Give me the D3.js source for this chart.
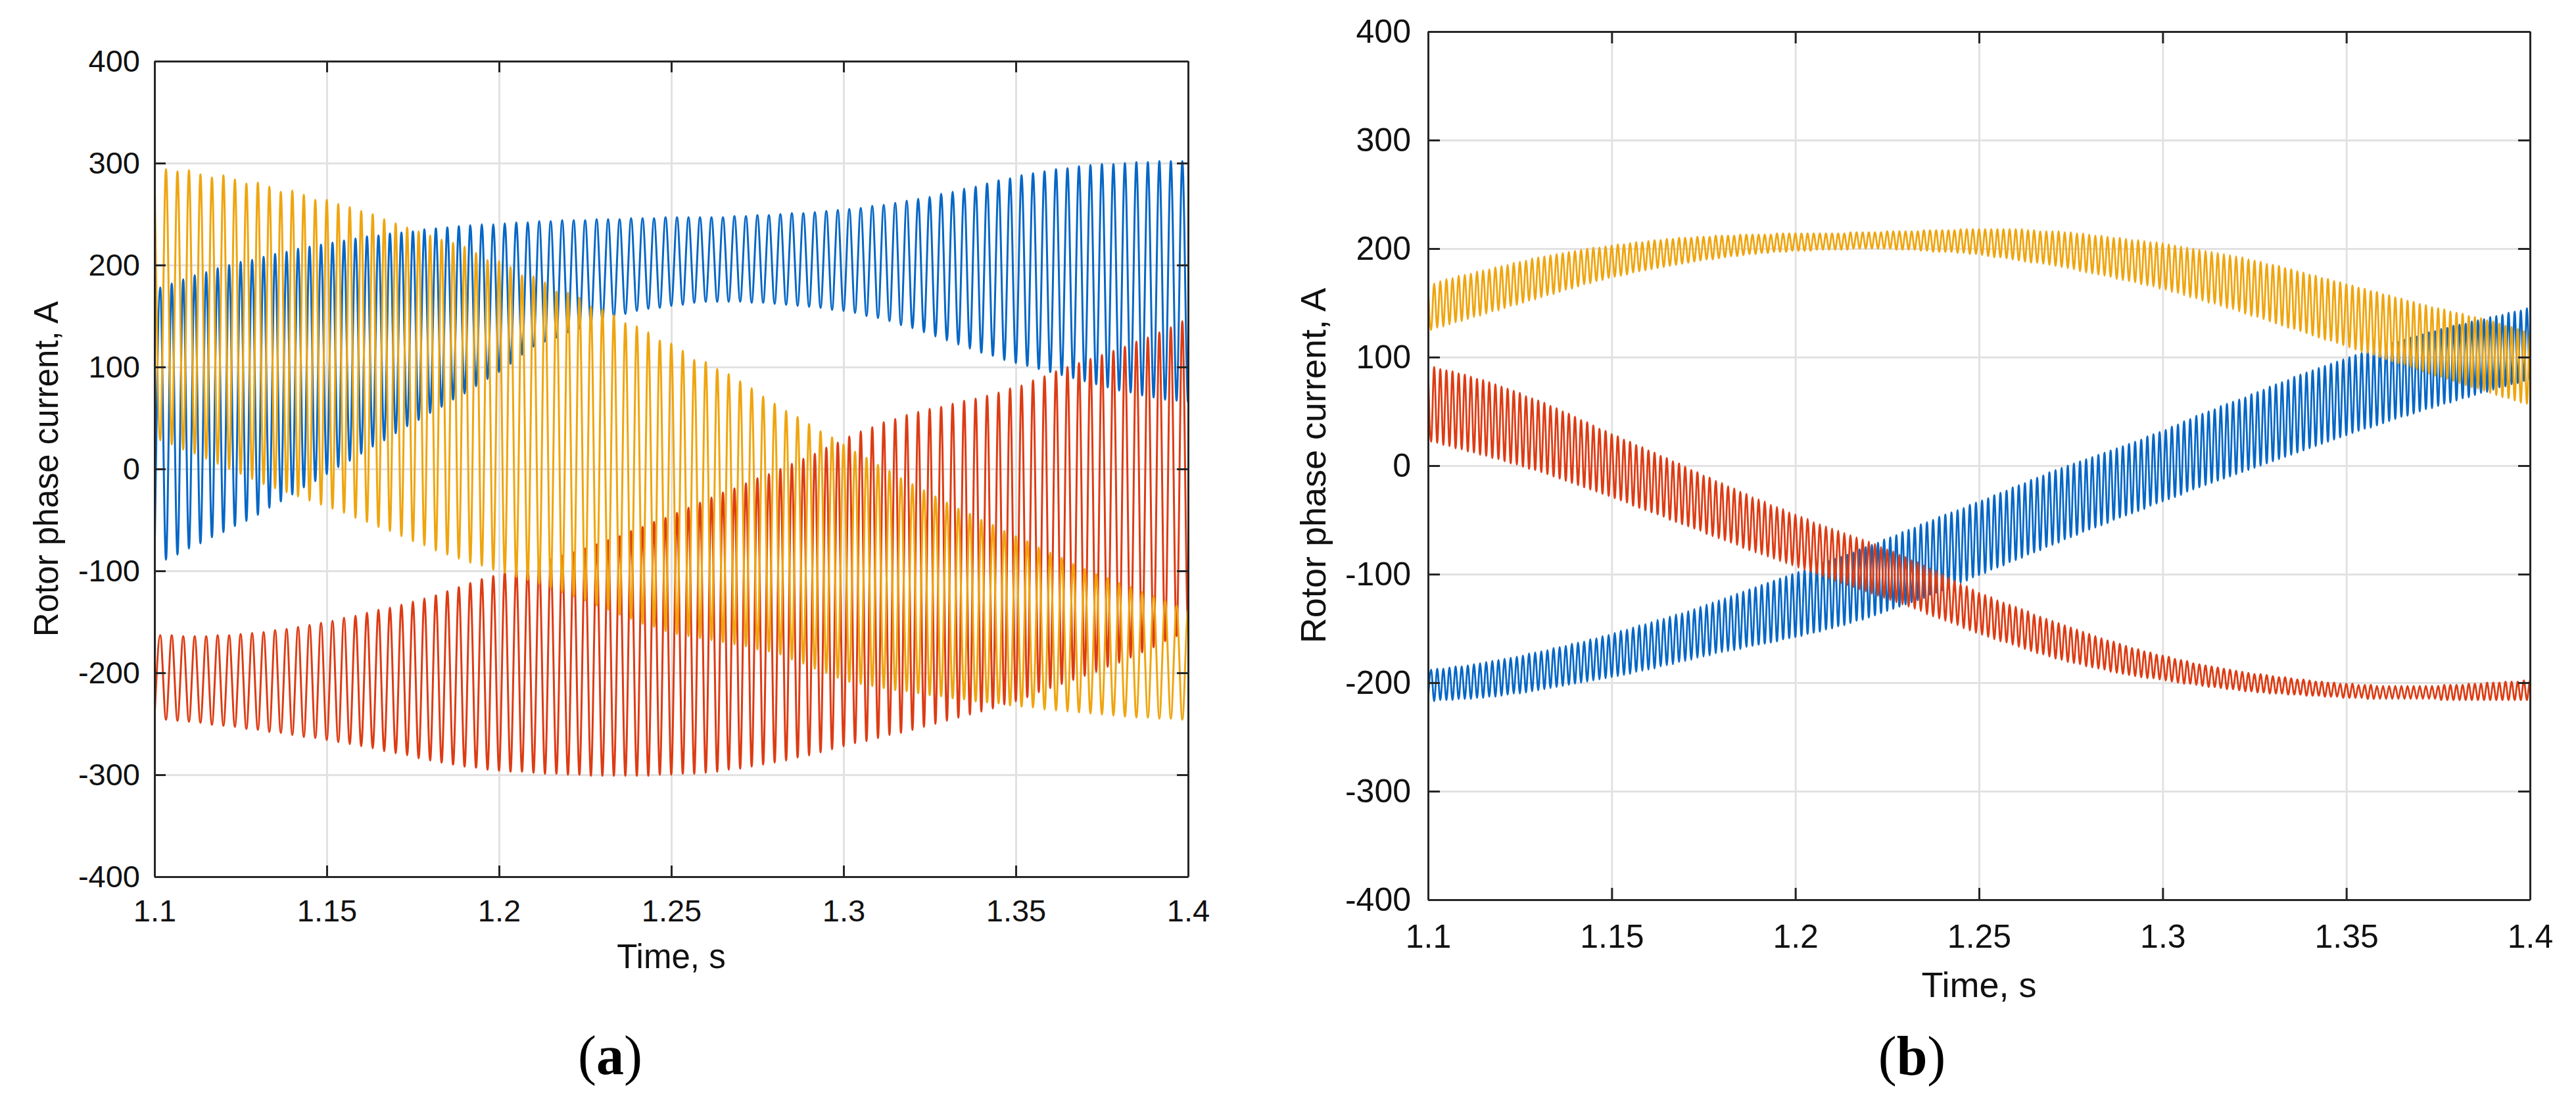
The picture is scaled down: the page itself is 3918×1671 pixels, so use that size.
<!DOCTYPE html>
<html>
<head>
<meta charset="utf-8">
<script src="https://cdn.jsdelivr.net/npm/d3@7"></script>
<style>
  body { margin: 0; background: #ffffff; }
  svg { display: block; font-family: "Liberation Sans", Arial, Helvetica, sans-serif; }
</style>
</head>
<body>
<svg id="fig" width="3918" height="1671"></svg>
<script>

//-------------------Axes----------------------------------------

var tStart = 1.1;
var tEnd = 1.4;
var xTicks = [1.1, 1.15, 1.2, 1.25, 1.3, 1.35, 1.4];
var yTicks = [-400, -300, -200, -100, 0, 100, 200, 300, 400];
var cyclesA = 90;   // ripple cycles over 1.1 .. 1.4 s in (a)
var cyclesB = 180;  // ripple cycles over 1.1 .. 1.4 s in (b)

//-------------------Panel (a) : top / bottom of each ripple cycle, A----------------------------------------

var aBlueTop = [178,182,186,190,193,197,200,203,205,208,211,213,216,218,220,222,224,226,228,229,231,232,233,235,236,237,238,239,240,240,
  241,242,242,243,243,244,244,244,245,245,245,246,246,246,247,247,247,247,247,247,248,248,249,249,250,251,251,252,253,254,
  255,256,258,259,261,263,265,267,270,272,275,277,280,283,285,288,290,292,294,295,297,298,299,299,300,301,301,302,302,302,302];
var aBlueBottom = [-95,-89,-84,-78,-73,-67,-62,-56,-51,-45,-38,-32,-25,-18,-12,-5,2,8,15,22,28,35,42,48,55,61,68,74,81,88,
  95,103,112,120,125,129,134,138,142,146,149,152,155,157,158,160,161,163,164,164,164,164,163,163,162,161,160,159,158,156,
  155,153,150,148,145,141,138,134,130,126,122,118,114,111,107,104,101,98,95,92,89,86,83,80,77,75,72,70,68,67,65];

var aRedTop = [-163,-163,-164,-164,-164,-163,-163,-162,-161,-160,-158,-157,-155,-153,-151,-149,-146,-144,-141,-138,-136,-133,-130,-127,-124,-120,-116,-112,-108,-105,
  -101,-98,-95,-92,-89,-85,-82,-78,-74,-70,-66,-61,-57,-52,-48,-43,-38,-33,-28,-23,-19,-14,-9,-5,0,5,10,15,21,26,
  32,37,41,46,49,53,56,59,61,64,67,69,72,75,79,82,87,91,96,100,104,108,112,116,120,125,129,134,139,145,150];
var aRedBottom = [-245,-246,-247,-248,-249,-251,-252,-253,-255,-256,-258,-259,-261,-263,-264,-266,-268,-270,-272,-274,-277,-279,-281,-284,-286,-288,-290,-292,-293,-295,
  -296,-297,-297,-298,-299,-299,-300,-300,-301,-301,-301,-301,-301,-301,-300,-300,-299,-299,-298,-297,-295,-294,-292,-290,-288,-286,-283,-281,-278,-275,
  -272,-269,-267,-264,-261,-259,-256,-253,-250,-247,-244,-241,-238,-235,-231,-228,-224,-219,-215,-211,-207,-203,-199,-194,-190,-185,-180,-175,-169,-164,-158];

var aYellowTop = [298,294,292,293,289,286,288,284,280,281,277,272,273,269,264,264,260,257,253,250,245,241,237,233,229,225,222,218,212,205,
  204,198,190,189,183,174,173,168,159,157,151,143,140,134,126,123,116,107,105,98,93,86,79,71,64,57,51,44,37,31,
  24,17,11,4,-2,-9,-15,-21,-27,-33,-39,-44,-50,-55,-61,-66,-71,-77,-82,-87,-93,-98,-103,-107,-112,-116,-121,-125,-129,-134,-138];
var aYellowBottom = [28,24,19,15,10,5,0,-5,-10,-15,-19,-23,-27,-31,-35,-39,-43,-48,-52,-57,-61,-66,-71,-75,-80,-84,-88,-92,-95,-99,
  -102,-106,-109,-113,-117,-121,-125,-129,-134,-138,-143,-147,-152,-155,-159,-162,-164,-166,-168,-170,-172,-174,-177,-179,-182,-187,-191,-196,-200,-205,
  -209,-211,-213,-215,-217,-218,-220,-222,-223,-225,-226,-228,-229,-230,-232,-233,-234,-236,-237,-238,-239,-240,-241,-242,-243,-244,-244,-245,-245,-246,-246];

//-------------------Panel (b) : top / bottom of each ripple cycle, A----------------------------------------

var bBlueTop = [-188,-187,-187,-186,-185,-185,-184,-183,-182,-181,-180,-179,-178,-177,-176,-175,-173,-172,-171,-170,-168,-167,-166,-164,-163,-162,-160,-159,-157,-156,
  -154,-152,-151,-149,-147,-146,-144,-142,-141,-139,-137,-136,-134,-132,-130,-128,-126,-124,-122,-120,-118,-116,-114,-112,-110,-108,-106,-104,-102,-100,
  -98,-96,-94,-92,-90,-88,-86,-84,-82,-80,-77,-75,-73,-71,-68,-66,-64,-61,-59,-57,-54,-52,-50,-47,-45,-43,-41,-39,-36,-34,
  -32,-30,-27,-25,-23,-20,-18,-16,-13,-11,-9,-6,-4,-2,0,2,4,6,8,10,12,14,16,18,20,22,24,27,29,31,
  33,36,38,41,43,46,48,50,52,55,57,59,61,63,66,68,70,73,75,77,79,82,84,86,88,90,92,94,96,98,
  100,102,104,106,107,109,111,113,114,116,118,119,121,123,124,126,127,129,130,131,133,134,135,137,138,139,141,142,143,145,146];
var bBlueBottom = [-217,-217,-216,-216,-216,-215,-215,-215,-214,-214,-213,-213,-212,-211,-210,-210,-209,-208,-207,-206,-205,-204,-203,-202,-201,-200,-199,-198,-197,-196,
  -195,-194,-193,-192,-190,-189,-188,-187,-185,-184,-183,-181,-180,-179,-177,-176,-175,-173,-172,-171,-170,-169,-167,-166,-165,-164,-163,-162,-160,-159,
  -158,-157,-155,-154,-153,-151,-150,-148,-147,-145,-143,-142,-140,-138,-136,-134,-132,-130,-128,-126,-124,-122,-119,-117,-115,-113,-110,-108,-106,-103,
  -101,-99,-96,-94,-92,-89,-87,-85,-82,-80,-78,-75,-73,-71,-68,-66,-64,-61,-59,-57,-55,-53,-50,-48,-46,-44,-42,-40,-37,-35,
  -33,-31,-29,-27,-24,-22,-20,-18,-16,-14,-12,-10,-8,-6,-4,-2,0,2,4,6,8,10,12,14,16,18,20,22,24,26,
  28,30,32,34,35,37,39,41,43,45,46,48,50,52,53,55,57,58,60,62,63,65,67,68,70,72,73,75,76,78,79];

var bRedTop = [92,91,89,88,87,85,84,82,80,79,77,75,73,71,69,67,64,62,60,58,55,53,50,48,45,42,40,37,34,32,
  29,27,24,22,19,17,14,12,9,7,4,2,-1,-4,-6,-9,-11,-14,-16,-19,-21,-24,-26,-29,-31,-33,-36,-38,-40,-43,
  -45,-47,-49,-52,-54,-56,-58,-60,-62,-64,-66,-68,-70,-72,-75,-77,-79,-82,-84,-87,-89,-92,-95,-97,-100,-103,-106,-109,-111,-114,
  -117,-119,-121,-124,-126,-128,-130,-132,-134,-137,-139,-141,-143,-145,-147,-149,-151,-153,-155,-157,-159,-161,-162,-164,-166,-168,-169,-171,-172,-174,
  -175,-176,-178,-179,-180,-182,-183,-184,-185,-186,-187,-188,-189,-190,-191,-192,-192,-193,-194,-195,-195,-196,-197,-197,-198,-199,-199,-200,-200,-201,
  -201,-201,-202,-202,-202,-203,-203,-203,-203,-203,-203,-203,-203,-203,-203,-203,-202,-202,-202,-202,-201,-201,-201,-200,-200,-200,-199,-199,-199,-198,-198];
var bRedBottom = [22,21,19,18,16,15,13,12,10,9,7,6,4,2,1,-1,-3,-4,-6,-8,-10,-12,-14,-16,-18,-20,-22,-24,-26,-28,
  -30,-32,-34,-37,-39,-41,-43,-45,-47,-50,-52,-54,-56,-58,-60,-63,-65,-67,-69,-71,-73,-76,-78,-80,-82,-84,-86,-88,-90,-92,
  -94,-96,-98,-100,-102,-104,-106,-108,-110,-112,-114,-116,-118,-120,-122,-124,-126,-128,-130,-132,-134,-137,-139,-141,-143,-145,-147,-150,-152,-154,
  -156,-158,-160,-162,-163,-165,-167,-169,-171,-173,-174,-176,-178,-179,-181,-182,-183,-185,-186,-187,-188,-190,-191,-192,-193,-194,-195,-196,-196,-197,
  -198,-199,-200,-201,-201,-202,-203,-204,-204,-205,-206,-206,-207,-208,-208,-209,-209,-210,-210,-210,-211,-211,-211,-212,-212,-212,-213,-213,-213,-214,
  -214,-214,-214,-215,-215,-215,-215,-215,-215,-215,-215,-215,-215,-215,-215,-216,-216,-216,-216,-216,-216,-216,-216,-216,-216,-216,-216,-216,-216,-216,-216];

var bYellowTop = [167,168,170,172,173,175,176,177,179,180,181,183,184,185,187,188,189,191,192,193,194,195,196,197,198,199,200,201,201,202,
  203,204,204,205,206,206,207,208,208,209,209,210,210,210,211,211,211,212,212,212,212,213,213,213,213,213,213,214,214,214,
  214,214,214,214,214,214,214,214,214,215,215,215,215,215,215,216,216,216,216,216,216,217,217,217,217,217,217,218,218,218,
  218,218,218,218,218,218,218,218,217,217,216,216,216,216,215,215,214,214,213,212,212,211,210,210,209,208,208,207,206,206,
  205,204,203,202,201,200,199,198,197,196,195,194,193,192,190,189,188,186,185,184,182,181,179,178,176,175,173,172,170,169,
  167,166,164,163,161,160,158,157,155,154,152,151,149,148,146,145,144,142,141,140,138,137,136,134,133,131,129,128,126,124,122];
var bYellowBottom = [125,127,128,130,132,133,135,137,138,140,142,143,145,147,148,150,152,153,155,157,158,160,162,163,165,167,168,170,171,173,
  174,175,176,178,179,180,181,182,183,184,185,186,187,188,189,190,190,191,192,193,193,194,195,195,196,196,197,197,197,198,
  198,198,198,199,199,199,199,199,199,200,200,200,200,200,200,200,199,199,199,199,198,198,197,197,197,197,196,196,195,195,
  194,193,192,192,191,190,189,188,187,187,186,185,184,183,182,181,179,178,177,176,175,174,172,171,170,169,167,166,165,163,
  162,160,159,157,155,154,152,150,149,147,145,144,142,140,138,137,135,133,131,129,127,126,124,122,120,118,116,115,113,111,
  109,107,105,104,102,100,98,96,94,93,91,89,87,85,83,82,80,78,76,74,72,71,69,67,65,63,62,60,58,57,55];

var colBlue = "#0667c6";
var colRed = "#dd3c14";
var colYellow = "#efa50f";

//-------------------Ripple polyline from cycle tops/bottoms----------------------------------------

function pointsFromCycles(top, bottom, peakFirst, nbCycles) {
    var period = (tEnd - tStart) / nbCycles;
    var pts = [];
    for (var k = 0; k < top.length; k++) {
        var t = tStart + k * period;
        if (peakFirst) {
            pts.push([t, top[k]]);
            pts.push([t + period / 2, bottom[k]]);
        } else {
            pts.push([t, bottom[k]]);
            pts.push([t + period / 2, top[k]]);
        }
    }
    return pts;
}

//-------------------One panel----------------------------------------

function drawPanel(p) {
    var svg = d3.select("#fig");
    var g = svg.append("g");
    var w = p.right - p.left;
    var h = p.bottom - p.top;

    var x = d3.scaleLinear().domain([tStart, tEnd]).range([p.left, p.right]);
    var y = d3.scaleLinear().domain([-400, 400]).range([p.bottom, p.top]);

    svg.append("defs").append("clipPath")
        .attr("id", "clip-" + p.id)
        .append("rect")
        .attr("x", p.left).attr("y", p.top)
        .attr("width", w).attr("height", h);

    // grille
    g.append("g")
        .attr("transform", "translate(0," + p.bottom + ")")
        .call(d3.axisBottom(x).tickValues(xTicks).tickSize(-h).tickFormat(""))
        .call(function(s) { s.select(".domain").remove(); })
        .selectAll("line").attr("stroke", "#e2e2e2").attr("stroke-width", 3);
    g.append("g")
        .attr("transform", "translate(" + p.left + ",0)")
        .call(d3.axisLeft(y).tickValues(yTicks).tickSize(-w).tickFormat(""))
        .call(function(s) { s.select(".domain").remove(); })
        .selectAll("line").attr("stroke", "#e2e2e2").attr("stroke-width", 3);

    // courbes, ordre matlab : bleu, rouge, jaune
    var line = d3.line()
        .x(function(d) { return x(d[0]); })
        .y(function(d) { return y(d[1]); })
        .curve(d3.curveMonotoneX);

    p.series.forEach(function(s) {
        g.append("path")
            .attr("d", line(pointsFromCycles(s.top, s.bottom, s.peakFirst, p.cycles)))
            .attr("fill", "none")
            .attr("stroke", s.color)
            .attr("stroke-width", p.lineWidth)
            .attr("stroke-linejoin", "round")
            .attr("clip-path", "url(#clip-" + p.id + ")");
    });

    // cadre + graduations vers l'interieur
    var axes = [
        {gen: d3.axisBottom(x).tickValues(xTicks).tickFormat(d3.format("~g")).tickPadding(p.xPad), tr: "translate(0," + p.bottom + ")"},
        {gen: d3.axisTop(x).tickValues(xTicks).tickFormat(function() { return ""; }), tr: "translate(0," + p.top + ")"},
        {gen: d3.axisLeft(y).tickValues(yTicks).tickFormat(function(d) { return String(d); }).tickPadding(p.yPad), tr: "translate(" + p.left + ",0)"},
        {gen: d3.axisRight(y).tickValues(yTicks).tickFormat(function() { return ""; }), tr: "translate(" + p.right + ",0)"}
    ];
    axes.forEach(function(a) {
        var ax = g.append("g")
            .attr("transform", a.tr)
            .call(a.gen.tickSizeInner(-p.tick).tickSizeOuter(0));
        ax.attr("font-family", null).attr("font-size", null).attr("color", "#262626");
        ax.select(".domain").attr("stroke-width", 3);
        ax.selectAll(".tick line").attr("stroke-width", 3);
        ax.selectAll(".tick text")
            .attr("fill", "#111111")
            .style("font-size", p.tickFont + "px");
    });

    // titres
    g.append("text")
        .attr("x", (p.left + p.right) / 2)
        .attr("y", p.xTitleY)
        .attr("text-anchor", "middle")
        .attr("fill", "#111111")
        .style("font-size", p.titleFont + "px")
        .text("Time, s");

    g.append("text")
        .attr("transform", "translate(" + p.yTitleX + "," + ((p.top + p.bottom) / 2) + ") rotate(-90)")
        .attr("text-anchor", "middle")
        .attr("fill", "#111111")
        .style("font-size", p.titleFont + "px")
        .text("Rotor phase current, A");

    var cap = g.append("text")
        .attr("x", p.capX)
        .attr("y", p.capY)
        .attr("text-anchor", "middle")
        .attr("fill", "#000000")
        .style("font-family", "'Liberation Serif', 'Times New Roman', serif")
        .style("font-size", "84px");
    cap.append("tspan").text("(");
    cap.append("tspan").attr("font-weight", "bold").text(p.letter);
    cap.append("tspan").text(")");
}

//-------------------Les deux figures----------------------------------------

drawPanel({
    id: "a", letter: "a",
    left: 235, right: 1807, top: 93, bottom: 1333,
    cycles: cyclesA, lineWidth: 3,
    tick: 17, tickFont: 47, titleFont: 51,
    xPad: 35, yPad: 22,
    xTitleY: 1472, yTitleX: 88,
    capX: 928, capY: 1633,
    series: [
        {top: aBlueTop, bottom: aBlueBottom, peakFirst: false, color: colBlue},
        {top: aRedTop, bottom: aRedBottom, peakFirst: false, color: colRed},
        {top: aYellowTop, bottom: aYellowBottom, peakFirst: true, color: colYellow}
    ]
});

drawPanel({
    id: "b", letter: "b",
    left: 2172, right: 3848, top: 48, bottom: 1368,
    cycles: cyclesB, lineWidth: 2.8,
    tick: 18, tickFont: 50, titleFont: 54,
    xPad: 37, yPad: 26,
    xTitleY: 1516, yTitleX: 2016,
    capX: 2908, capY: 1634,
    series: [
        {top: bBlueTop, bottom: bBlueBottom, peakFirst: false, color: colBlue},
        {top: bRedTop, bottom: bRedBottom, peakFirst: true, color: colRed},
        {top: bYellowTop, bottom: bYellowBottom, peakFirst: true, color: colYellow}
    ]
});

</script>
</body>
</html>
